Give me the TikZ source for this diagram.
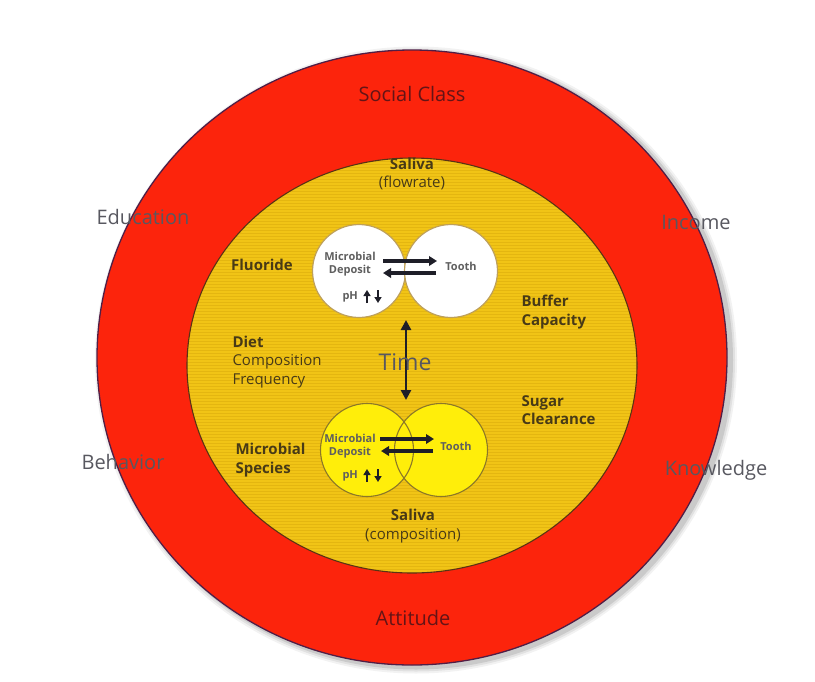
\documentclass[tikz,border=0pt]{standalone}
\usepackage{fontspec}
\setmainfont{Open Sans}
\usetikzlibrary{arrows.meta,patterns}
\definecolor{ringred}{RGB}{252,36,12}
\definecolor{edgepurple}{RGB}{80,30,70}
\definecolor{inneryellow}{RGB}{241,196,22}
\definecolor{stripe}{RGB}{228,182,16}
\definecolor{inneredge}{RGB}{90,50,20}
\definecolor{olivetext}{RGB}{72,58,22}
\definecolor{ringtext}{RGB}{100,20,22}
\definecolor{outtext}{RGB}{88,88,96}
\definecolor{smalltext}{RGB}{95,95,95}
\definecolor{tanedge}{RGB}{190,160,90}
\definecolor{brightyellow}{RGB}{255,238,10}
\definecolor{yellowedge}{RGB}{140,120,40}
\definecolor{arrowc}{RGB}{30,30,40}
\tikzset{
  outlabel/.style={text=outtext, font=\fontsize{20}{22}\selectfont},
  ringlabel/.style={text=ringtext, font=\fontsize{20}{22}\selectfont},
  boldlabel/.style={text=olivetext, font=\bfseries\fontsize{15}{18.5}\selectfont, align=left},
  plainlabel/.style={text=olivetext, font=\fontsize{15}{18.5}\selectfont, align=center},
  smalllabel/.style={text=smalltext, font=\bfseries\fontsize{11}{13.5}\selectfont, align=center},
  exch/.style={arrowc, line width=3.4pt, -{Triangle[length=8pt,width=9.5pt]}},
  phar/.style={arrowc, line width=2pt, -{Triangle[length=6pt,width=7pt]}},
}
\begin{document}
\begin{tikzpicture}[x=1pt,y=-1pt]
\useasboundingbox (0,0) rectangle (815,681);
% shadow
\foreach \d/\o in {6/0.05,4/0.07,2/0.1}{
  \fill[black,opacity=\o] (416,360) ellipse [x radius=315+\d, y radius=307.5+\d];
}
% outer ring
\draw[fill=ringred, draw=edgepurple, line width=1.3pt] (412,357.5) ellipse [x radius=315, y radius=307.5];
% inner disc
\fill[inneryellow] (412,365.5) ellipse [x radius=225, y radius=207.5];
\fill[pattern=horizontal lines, pattern color=stripe] (412,365.5) ellipse [x radius=225, y radius=207.5];
\draw[inneredge, line width=1.1pt] (412,365.5) ellipse [x radius=225, y radius=207.5];

% top circles
\node[circle, minimum size=93pt, inner sep=0pt, fill=white, draw=tanedge, line width=1.2pt] (tl) at (359,271) {};
\node[circle, minimum size=93pt, inner sep=0pt, fill=white, draw=tanedge, line width=1.2pt] (tr) at (451,271) {};
% bottom circles
\node[circle, minimum size=93pt, inner sep=0pt, fill=brightyellow] (bl) at (367,450) {};
\node[circle, minimum size=93pt, inner sep=0pt, fill=brightyellow] (br) at (441,450) {};
\node[circle, minimum size=93pt, inner sep=0pt, draw=yellowedge, line width=1.1pt] (blo) at (bl) {};
\node[circle, minimum size=93pt, inner sep=0pt, draw=yellowedge, line width=1.1pt] (bro) at (br) {};

% top circle texts
\node[smalllabel] (tmd) at (350,264) {Microbial\\Deposit};
\node[smalllabel] (ttooth) at (461,266) {Tooth};
\node[smalllabel, anchor=west] (tph) at (339,297) {pH};
\coordinate (tu1) at (367,303); \coordinate (tu2) at (367,290);
\coordinate (td1) at (378,290); \coordinate (td2) at (378,303);
\draw[phar] (tu1) -- (tu2);
\draw[phar] (td1) -- (td2);
\coordinate (ta1) at (383,261); \coordinate (ta2) at (437,261);
\coordinate (tb1) at (436,273); \coordinate (tb2) at (383,273);
\draw[exch] (ta1) -- (ta2);
\draw[exch] (tb1) -- (tb2);

% bottom circle texts
\node[smalllabel] (bmd) at (350,446) {Microbial\\Deposit};
\node[smalllabel] (btooth) at (456,446) {Tooth};
\node[smalllabel, anchor=west] (bph) at (339,476) {pH};
\coordinate (bu1) at (367,482); \coordinate (bu2) at (367,469);
\coordinate (bd1) at (378,469); \coordinate (bd2) at (378,482);
\draw[phar] (bu1) -- (bu2);
\draw[phar] (bd1) -- (bd2);
\coordinate (ba1) at (380,439); \coordinate (ba2) at (434,439);
\coordinate (bb1) at (433,451); \coordinate (bb2) at (381,451);
\draw[exch] (ba1) -- (ba2);
\draw[exch] (bb1) -- (bb2);

% time arrow
\coordinate (timetop) at (406,320);
\coordinate (timebot) at (406,400);
\draw[arrowc, line width=2.5pt, {Triangle[length=10pt,width=10pt]}-{Triangle[length=10pt,width=10pt]}] (timetop) -- (timebot);
\node[text=outtext, font=\fontsize{23}{28}\selectfont] (time) at (405,362) {Time};

% inner labels
\node[plainlabel] (saliva1) at (412,174) {\textbf{Saliva}\\(flowrate)};
\node[boldlabel] (fluoride) at (262,265) {Fluoride};
\node[plainlabel, align=left, anchor=west] (diet) at (229,362) {\textbf{Diet}\\Composition\\Frequency};
\node[boldlabel, anchor=west] (species) at (232,460) {Microbial\\Species};
\node[boldlabel, anchor=west] (buffer) at (518,312) {Buffer\\Capacity};
\node[boldlabel, anchor=west] (sugar) at (518,410) {Sugar\\Clearance};
\node[plainlabel] (saliva2) at (413,526) {\textbf{Saliva}\\(composition)};

% ring labels
\node[ringlabel] (social) at (412,94) {Social Class};
\node[ringlabel] (attitude) at (413,618) {Attitude};

% outer labels
\node[outlabel] (education) at (143,217) {Education};
\node[outlabel] (income) at (696,222) {Income};
\node[outlabel] (behavior) at (123,462) {Behavior};
\node[outlabel] (knowledge) at (716,470) {Knowledge};
\end{tikzpicture}
\end{document}
